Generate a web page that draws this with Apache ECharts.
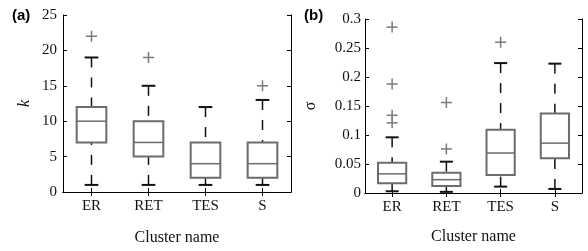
<!DOCTYPE html>
<html>
<head>
<meta charset="utf-8">
<script src="https://cdn.jsdelivr.net/npm/echarts@6/dist/echarts.min.js"></script>
<style>
html, body { margin: 0; background: #fff; }
#chart { width: 588px; height: 251px; }
</style>
</head>
<body>
<div id="chart"></div>
<script>
const clusters = ['ER', 'RET', 'TES', 'S'];
// per cluster: [index, min, Q1, median, Q3, max]
const kStats = [
    [0, 1, 7, 10, 12, 19],
    [1, 1, 5, 7, 10, 15],
    [2, 1, 2, 4, 7, 12],
    [3, 1, 2, 4, 7, 13]
];
const kOutliers = [[0, 22], [1, 19], [3, 15]];
const sigmaStats = [
    [0, 0.003, 0.017, 0.033, 0.052, 0.096],
    [1, 0.002, 0.012, 0.023, 0.035, 0.054],
    [2, 0.011, 0.031, 0.069, 0.109, 0.224],
    [3, 0.007, 0.060, 0.086, 0.137, 0.223]
];
const sigmaOutliers = [
    [0, 0.286], [0, 0.188], [0, 0.134], [0, 0.121],
    [1, 0.156], [1, 0.076],
    [2, 0.26]
];
const kAxis = { min: 0, max: 25, interval: 5 };
const sigmaAxis = { min: 0, max: 0.3, interval: 0.05 };

const boxColor = '#6c6c6c';
const whiskerColor = '#111';
const labelFont = 'Liberation Serif';

const renderBox = (params, api) => {
    const i = api.value(0);
    const band = api.size([1, 0])[0];
    const half = band * 0.26;
    const cap = band * 0.12;
    const p = [1, 2, 3, 4, 5].map(d => api.coord([i, api.value(d)]));
    const cx = p[0][0];
    const dashed = { stroke: whiskerColor, lineWidth: 1.5, lineDash: [10, 10] };
    const solid = { stroke: whiskerColor, lineWidth: 2 };
    return {
        type: 'group',
        children: [
            { type: 'line', shape: { x1: cx, y1: p[4][1], x2: cx, y2: p[3][1] }, style: dashed },
            { type: 'line', shape: { x1: cx, y1: p[0][1], x2: cx, y2: p[1][1] }, style: dashed },
            { type: 'line', shape: { x1: cx - cap, y1: p[4][1], x2: cx + cap, y2: p[4][1] }, style: solid },
            { type: 'line', shape: { x1: cx - cap, y1: p[0][1], x2: cx + cap, y2: p[0][1] }, style: solid },
            {
                type: 'rect',
                shape: { x: cx - half, y: p[3][1], width: half * 2, height: p[1][1] - p[3][1] },
                style: { fill: 'none', stroke: boxColor, lineWidth: 2 }
            },
            {
                type: 'line',
                shape: { x1: cx - half, y1: p[2][1], x2: cx + half, y2: p[2][1] },
                style: { stroke: boxColor, lineWidth: 1.5 }
            }
        ]
    };
};

const renderPlus = (params, api) => {
    const p = api.coord([api.value(0), api.value(1)]);
    const r = 5.5;
    const style = { stroke: '#7a7a7a', lineWidth: 1.5 };
    return {
        type: 'group',
        children: [
            { type: 'line', shape: { x1: p[0] - r, y1: p[1], x2: p[0] + r, y2: p[1] }, style },
            { type: 'line', shape: { x1: p[0], y1: p[1] - r, x2: p[0], y2: p[1] + r }, style }
        ]
    };
};

const frameLine = { show: true, lineStyle: { color: '#000', width: 1 } };
const tickIn = { show: true, inside: true, length: 4, lineStyle: { color: '#000' } };

const xAxes = [];
const yAxes = [];
[0, 1].forEach(g => {
    xAxes.push({
        type: 'category', gridIndex: g, data: clusters, position: 'bottom',
        axisLine: frameLine,
        axisTick: { ...tickIn, alignWithLabel: true },
        axisLabel: { color: '#111', fontFamily: labelFont, fontSize: 15, margin: 7 },
        name: 'Cluster name', nameLocation: 'middle', nameGap: g === 0 ? 38 : 36,
        nameTextStyle: { color: '#111', fontFamily: labelFont, fontSize: 16 }
    });
    xAxes.push({
        type: 'category', gridIndex: g, data: clusters, position: 'top',
        axisLine: frameLine,
        axisTick: { ...tickIn, alignWithLabel: true },
        axisLabel: { show: false }
    });
    const range = g === 0 ? kAxis : sigmaAxis;
    yAxes.push({
        type: 'value', gridIndex: g, position: 'left',
        min: range.min, max: range.max, interval: range.interval,
        axisLine: frameLine, axisTick: tickIn, splitLine: { show: false },
        axisLabel: { color: '#111', fontFamily: labelFont, fontSize: 15, margin: g === 0 ? 6 : 4 },
        name: g === 0 ? 'k' : 'σ', nameLocation: 'middle', nameRotate: 90,
        nameGap: g === 0 ? 30 : 46,
        nameTextStyle: {
            color: '#111', fontFamily: labelFont, fontSize: 16,
            fontStyle: g === 0 ? 'italic' : 'normal'
        }
    });
    yAxes.push({
        type: 'value', gridIndex: g, position: 'right',
        min: range.min, max: range.max, interval: range.interval,
        axisLine: frameLine, axisTick: tickIn, splitLine: { show: false },
        axisLabel: { show: false }
    });
});

const chart = echarts.init(document.getElementById('chart'));
chart.setOption({
    animation: false,
    grid: [
        { left: 63, top: 15, width: 228, height: 181 },
        { left: 365, top: 19, width: 217, height: 174 }
    ],
    xAxis: xAxes,
    yAxis: yAxes,
    graphic: [
        { type: 'text', left: 12, top: 8, style: { text: '(a)', font: 'bold 15px "Liberation Sans"', fill: '#000' } },
        { type: 'text', left: 304, top: 8, style: { text: '(b)', font: 'bold 15px "Liberation Sans"', fill: '#000' } }
    ],
    series: [
        { type: 'custom', xAxisIndex: 0, yAxisIndex: 0, renderItem: renderBox, encode: { x: 0, y: [1, 2, 3, 4, 5] }, data: kStats },
        { type: 'custom', xAxisIndex: 0, yAxisIndex: 0, renderItem: renderPlus, encode: { x: 0, y: 1 }, data: kOutliers },
        { type: 'custom', xAxisIndex: 2, yAxisIndex: 2, renderItem: renderBox, encode: { x: 0, y: [1, 2, 3, 4, 5] }, data: sigmaStats },
        { type: 'custom', xAxisIndex: 2, yAxisIndex: 2, renderItem: renderPlus, encode: { x: 0, y: 1 }, data: sigmaOutliers }
    ]
});
</script>
</body>
</html>
